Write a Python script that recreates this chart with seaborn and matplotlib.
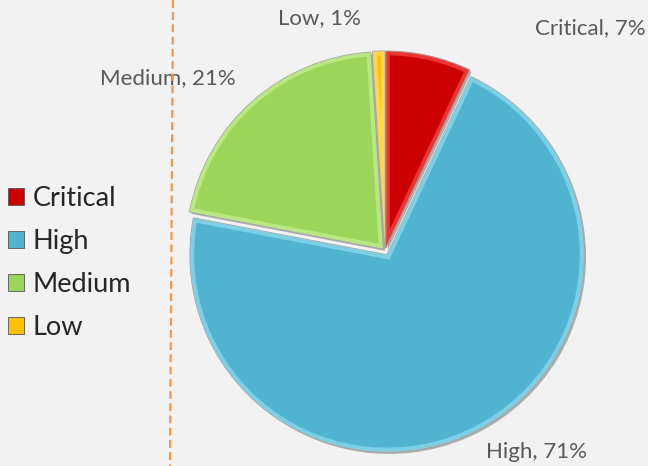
import matplotlib
matplotlib.use("Agg")
import matplotlib.pyplot as plt
import matplotlib.patheffects as pe
from matplotlib.patches import Patch, Wedge
from matplotlib.lines import Line2D
import seaborn as sns

# Share of findings by severity
severities = ["Critical", "High", "Medium", "Low"]
shares = [7, 71, 21, 1]
colors = ["#cc0000", "#50b4d0", "#9bd65a", "#ffc000"]
rim_colors = ["#ff5a5a", "#9ae4f5", "#cdf59a", "#ffe680"]

sns.set_theme(style="white")
plt.rcParams["font.family"] = ["Lato", "DejaVu Sans"]

W, H = 648, 466
bg = "#f2f2f2"
fig = plt.figure(figsize=(W / 100, H / 100), dpi=100, facecolor=bg)

# pie axes: centre and radius in pixels
cx, cy, r = 385, 251, 197
half = 215
ax = fig.add_axes([(cx - half) / W, (H - cy - half) / H, 2 * half / W, 2 * half / H])
ax.set_facecolor("none")

wedges, _ = ax.pie(
    shares,
    colors=colors,
    startangle=90,
    counterclock=False,
    explode=[0.015, 0.022, 0.015, 0.015],
    wedgeprops=dict(edgecolor="#a0a0a0", linewidth=0.8),
)
for w, rim in zip(wedges, rim_colors):
    w.set_path_effects([
        pe.SimplePatchShadow(offset=(1.5, -1.5), shadow_rgbFace="#808080", alpha=0.6),
        pe.Normal(),
    ])
    # soft bevel: a light rim drawn just inside each slice
    bevel = Wedge(w.center, w.r, w.theta1, w.theta2, facecolor="none",
                  edgecolor=rim, linewidth=6, alpha=0.6)
    ax.add_patch(bevel)
    bevel.set_clip_path(w)

ax.set_xlim(-half / r, half / r)
ax.set_ylim(-half / r, half / r)
ax.set_aspect("equal")
ax.axis("off")

# data labels
label_pos = [(1.04, 1.13), (0.77, -1.02), (-1.10, 0.88), (-0.33, 1.18)]
for name, val, (lx, ly) in zip(severities, shares, label_pos):
    ax.text(lx, ly, f"{name}, {val}%", ha="center", va="center",
            fontsize=16, color="#595959")

# legend
handles = [Patch(facecolor=c, edgecolor="#555555", linewidth=0.6) for c in colors]
fig.legend(handles, severities, loc="center left",
           bbox_to_anchor=(8 / W, 1 - 263 / H), frameon=False,
           fontsize=19.5, handlelength=0.6, handleheight=0.6,
           handletextpad=0.3, labelspacing=0.67, borderpad=0, borderaxespad=0)

# dashed divider
fig.add_artist(Line2D([173 / W, 170 / W], [1, 0], transform=fig.transFigure,
                      color="#f79646", linewidth=1.6, linestyle=(0, (3.5, 2))))

fig.savefig("out.png", dpi=100, facecolor=bg)
